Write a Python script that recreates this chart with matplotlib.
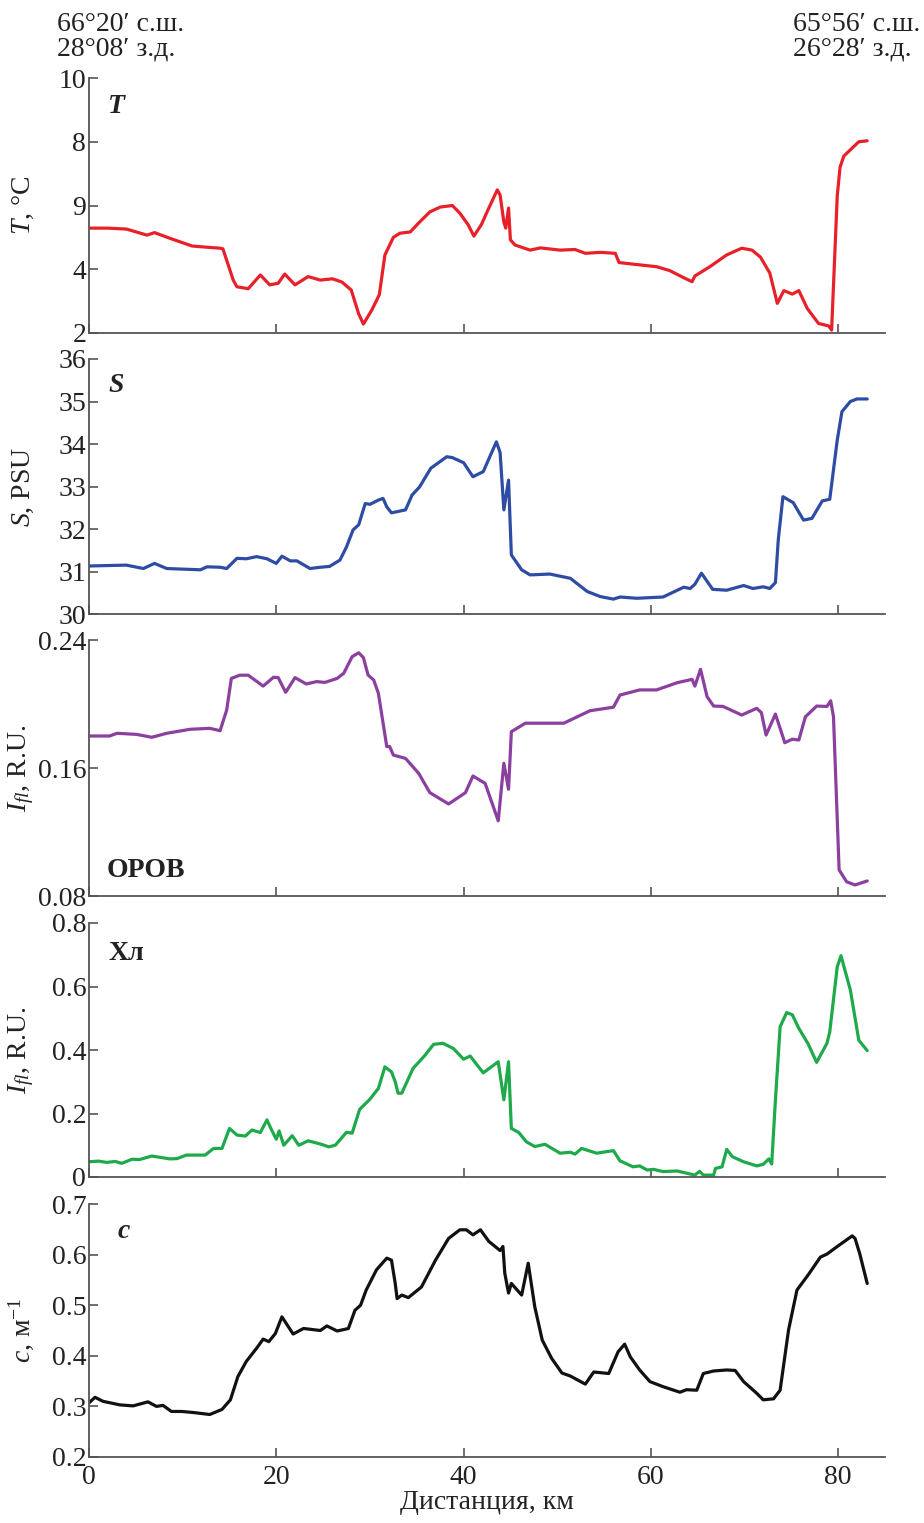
import numpy as np
import matplotlib
matplotlib.use("Agg")
import matplotlib.pyplot as plt

plt.rcParams['font.family'] = ['Liberation Serif', 'DejaVu Serif']
plt.rcParams['mathtext.fontset'] = 'custom'
plt.rcParams['mathtext.rm'] = 'Liberation Serif'
plt.rcParams['mathtext.it'] = 'Liberation Serif:italic'
plt.rcParams['mathtext.bf'] = 'Liberation Serif:bold'

# temperature
t_km = [0, 2, 4.0, 6.2, 7.0, 8.65, 11.0, 12.2, 14.0, 14.3, 15.4, 15.8, 17.0, 18.3, 19.3, 20.2, 20.9, 22.0, 23.4,
        24.7, 26.0, 27.0, 28.0, 28.8, 29.3, 30.2, 31.0, 31.6, 32.5, 33.2, 34.3, 35.3, 36.4, 37.5, 38.8, 39.6, 40.5,
        41.1, 41.9, 42.6, 43.6, 43.9, 44.3, 44.5, 44.8, 45.0, 45.5, 47.1, 48.2, 50.3, 51.9, 53.0, 54.6, 56.2, 56.6,
        58.1, 60.6, 62.0, 63.4, 64.4, 64.7, 66.3, 68.1, 69.7, 70.8, 71.7, 72.7, 73.5, 74.2, 75.1, 75.8, 76.7, 77.9,
        79.0, 79.3, 79.9, 80.2, 80.6, 81.1, 82.2, 83.1]
t_val = [5.29, 5.29, 5.26, 5.07, 5.15, 4.97, 4.73, 4.70, 4.66, 4.64, 3.66, 3.45, 3.39, 3.82, 3.51, 3.56, 3.85, 3.51,
         3.77, 3.66, 3.7, 3.6, 3.35, 2.6, 2.28, 2.72, 3.2, 4.45, 5.0, 5.13, 5.17, 5.48, 5.8, 5.95, 6.0, 5.76, 5.39,
         5.04, 5.4, 5.86, 6.49, 6.33, 5.48, 5.29, 5.92, 4.92, 4.76, 4.6, 4.67, 4.6, 4.62, 4.5, 4.53, 4.5, 4.21,
         4.16, 4.08, 3.96, 3.75, 3.61, 3.79, 4.08, 4.45, 4.66, 4.6, 4.38, 3.88, 2.93, 3.33, 3.22, 3.33, 2.77, 2.30,
         2.22, 2.09, 6.3, 7.2, 7.55, 7.69, 8.0, 8.03]

# salinity
s_km = [0, 4.0, 5.8, 7.0, 8.3, 11.9, 12.6, 14.0, 14.7, 15.8, 16.8, 17.9, 19.0, 20.0, 20.6, 21.5, 22.2, 23.6, 24.7,
        25.7, 26.8, 27.5, 28.2, 28.8, 29.5, 30.0, 30.9, 31.4, 31.8, 32.3, 33.8, 34.5, 35.3, 36.5, 38.2, 38.8, 40.0,
        41.0, 42.1, 43.5, 43.9, 44.3, 44.8, 45.1, 46.2, 47.1, 49.2, 51.4, 53.2, 54.6, 56.0, 56.7, 58.5, 61.3, 63.5,
        64.2, 64.7, 65.4, 66.6, 68.1, 69.9, 70.9, 72.0, 72.7, 73.3, 73.6, 74.1, 75.2, 76.3, 77.2, 78.3, 79.1, 79.9,
        80.4, 81.3, 82.0, 83.1]
s_val = [31.13, 31.15, 31.07, 31.19, 31.07, 31.04, 31.11, 31.1, 31.07, 31.31, 31.30, 31.35, 31.3, 31.19, 31.36,
         31.25, 31.25, 31.07, 31.1, 31.12, 31.27, 31.58, 31.98, 32.1, 32.6, 32.58, 32.68, 32.72, 32.52, 32.38, 32.45,
         32.8, 32.99, 33.43, 33.70, 33.68, 33.56, 33.23, 33.35, 34.05, 33.8, 32.45, 33.15, 31.39, 31.04, 30.92, 30.94,
         30.84, 30.53, 30.41, 30.35, 30.40, 30.37, 30.4, 30.63, 30.6, 30.7, 30.96, 30.58, 30.56, 30.67, 30.6, 30.64,
         30.6, 30.74, 31.74, 32.76, 32.62, 32.21, 32.25, 32.66, 32.7, 34.09, 34.76, 35.0, 35.06, 35.06]

# CDOM fluorescence
o_km = [0, 2.2, 3.0, 5.1, 6.7, 8.3, 10.8, 12.9, 14.0, 14.7, 15.2, 16.1, 17.0, 18.6, 19.7, 20.2, 21.0, 22.0, 23.2,
        24.3, 25.2, 26.5, 27.2, 28.1, 28.8, 29.3, 29.8, 30.4, 30.9, 31.8, 32.1, 32.5, 33.8, 35.2, 36.4, 38.4, 40.2,
        41.0, 42.3, 43.7, 44.3, 44.8, 45.1, 46.6, 50.7, 53.5, 56.0, 56.7, 58.8, 60.6, 62.8, 64.4, 64.7, 65.3, 66.0,
        66.7, 67.7, 69.7, 71.3, 71.8, 72.3, 73.3, 74.3, 75.1, 75.8, 76.5, 77.7, 78.8, 79.2, 79.5, 80.1, 80.9, 81.8,
        83.1]
o_val = [0.18, 0.18, 0.1817, 0.181, 0.1792, 0.1817, 0.1842, 0.1848, 0.1833, 0.1962, 0.216, 0.218, 0.218, 0.2112,
         0.2167, 0.2165, 0.2073, 0.2165, 0.2125, 0.214, 0.2135, 0.216, 0.2192, 0.2296, 0.232, 0.229, 0.2181, 0.215,
         0.2067, 0.1733, 0.1735, 0.1681, 0.166, 0.1567, 0.1446, 0.1375, 0.1446, 0.155, 0.1504, 0.127, 0.163, 0.1467,
         0.1827, 0.188, 0.188, 0.1958, 0.198, 0.2056, 0.2088, 0.2088, 0.2133, 0.2154, 0.2112, 0.2217, 0.2046, 0.1987,
         0.1985, 0.1931, 0.1973, 0.1946, 0.1806, 0.1937, 0.1758, 0.178, 0.1775, 0.192, 0.1987, 0.1985, 0.202, 0.192,
         0.0963, 0.0889, 0.0869, 0.0894]

# chlorophyll fluorescence
h_km = [0, 1.0, 1.9, 2.8, 3.5, 4.6, 5.4, 6.7, 8.65, 9.4, 10.4, 12.4, 13.3, 14.2, 15.0, 15.8, 16.7, 17.4, 18.3, 19.0,
        19.5, 20.0, 20.3, 20.8, 21.7, 22.4, 23.4, 24.7, 25.6, 26.3, 27.5, 28.1, 28.9, 30.0, 30.9, 31.6, 32.3, 32.7,
        33.0, 33.4, 34.6, 35.9, 36.8, 37.8, 38.9, 40.0, 40.7, 42.1, 43.7, 44.3, 44.8, 45.1, 45.9, 46.7, 47.6, 48.7,
        50.3, 51.4, 51.9, 52.6, 54.2, 56.0, 56.7, 58.1, 58.8, 59.6, 60.3, 61.3, 62.8, 64.7, 65.2, 65.6, 66.7, 66.9,
        67.6, 68.1, 68.7, 69.9, 71.3, 72.0, 72.6, 72.9, 73.3, 73.8, 74.5, 75.1, 75.8, 76.8, 77.7, 78.8, 79.1, 79.9,
        80.3, 81.3, 82.2, 83.1]
h_val = [0.048, 0.05, 0.046, 0.049, 0.043, 0.056, 0.055, 0.066, 0.057, 0.058, 0.069, 0.069, 0.09, 0.09, 0.153, 0.132,
         0.129, 0.148, 0.140, 0.18, 0.148, 0.119, 0.145, 0.1, 0.13, 0.1, 0.114, 0.104, 0.095, 0.1, 0.141, 0.138, 0.213,
         0.245, 0.279, 0.347, 0.331, 0.30, 0.264, 0.264, 0.342, 0.384, 0.418, 0.421, 0.405, 0.371, 0.381, 0.328, 0.363,
         0.243, 0.363, 0.153, 0.140, 0.111, 0.096, 0.103, 0.075, 0.078, 0.072, 0.09, 0.075, 0.083, 0.051, 0.032, 0.035,
         0.022, 0.024, 0.017, 0.019, 0.006, 0.018, 0.006, 0.006, 0.027, 0.032, 0.087, 0.064, 0.048, 0.035, 0.04, 0.057,
         0.041, 0.243, 0.473, 0.518, 0.511, 0.468, 0.419, 0.361, 0.421, 0.457, 0.662, 0.697, 0.589, 0.431, 0.398]

# beam attenuation
c_km = [0, 0.64, 1.5, 3.3, 4.7, 6.3, 7.2, 7.9, 8.8, 9.9, 11.1, 12.9, 14.2, 15.1, 15.9, 16.8, 17.9, 18.6, 19.2, 19.9,
        20.6, 21.8, 22.9, 24.7, 25.4, 26.5, 27.7, 28.4, 29.0, 29.6, 30.7, 31.8, 32.3, 32.7, 32.9, 33.4, 34.1, 35.5,
        37.0, 38.4, 39.6, 40.3, 41.0, 41.8, 42.7, 43.9, 44.2, 44.4, 44.8, 45.1, 46.2, 46.9, 47.6, 48.4, 49.4, 50.5,
        51.4, 53.0, 53.9, 55.5, 56.5, 57.2, 57.8, 58.8, 59.9, 61.3, 63.1, 63.8, 64.9, 65.6, 66.7, 68.1, 69.0, 69.9,
        71.3, 72.0, 73.1, 73.8, 74.7, 75.6, 76.8, 78.1, 78.8, 79.9, 81.5, 81.8, 82.3, 83.1]
c_val = [0.307, 0.318, 0.31, 0.303, 0.301, 0.309, 0.30, 0.302, 0.29, 0.29, 0.288, 0.284, 0.294, 0.313, 0.359, 0.389,
         0.415, 0.433, 0.428, 0.444, 0.477, 0.443, 0.454, 0.45, 0.459, 0.449, 0.454, 0.49, 0.5, 0.53, 0.57, 0.593, 0.589,
         0.543, 0.513, 0.52, 0.515, 0.536, 0.589, 0.632, 0.649, 0.649, 0.639, 0.649, 0.626, 0.608, 0.616, 0.563, 0.524,
         0.543, 0.52, 0.583, 0.497, 0.431, 0.395, 0.366, 0.36, 0.344, 0.368, 0.365, 0.408, 0.423, 0.398, 0.372, 0.349,
         0.339, 0.328, 0.333, 0.332, 0.365, 0.37, 0.372, 0.371, 0.349, 0.326, 0.313, 0.315, 0.332, 0.451, 0.53, 0.56,
         0.595, 0.601, 0.616, 0.637, 0.632, 0.602, 0.543]

x_ticks = [0, 20, 40, 60, 80]
t_ticks = [2, 4, 6, 8, 10]
t_ticklabels = ['2', '4', '9', '8', '10']
s_ticks = [30, 31, 32, 33, 34, 35, 36]
o_ticks = [0.08, 0.16, 0.24]
h_ticks = [0, 0.2, 0.4, 0.6, 0.8]
c_ticks = [0.2, 0.3, 0.4, 0.5, 0.6, 0.7]

W, H = 924, 1523
fig = plt.figure(figsize=(W / 100, H / 100), dpi=100)

left, right = 89, 885
panels = [
    # top px, bottom px, x, y, color, ylim, ticks, ticklabels, ylabel, tag, tag pos, tag italic
    (78, 333, t_km, t_val, '#e8202a', (2, 10), t_ticks, t_ticklabels, '$T$, °C', 'T', (0.024, 0.89), True),
    (359, 614, s_km, s_val, '#2e4ca3', (30, 36), s_ticks, None, '$S$, PSU', 'S', (0.024, 0.895), True),
    (640, 896, o_km, o_val, '#8b3f9e', (0.08, 0.24), o_ticks, ['0.08', '0.16', '0.24'], '$I_{fl}$, R.U.', 'ОРОВ', (0.022, 0.098), False),
    (923, 1177, h_km, h_val, '#1eaa4b', (0, 0.8), h_ticks, ['0', '0.2', '0.4', '0.6', '0.8'], '$I_{fl}$, R.U.', 'Хл', (0.024, 0.878), False),
    (1204, 1457, c_km, c_val, '#111111', (0.2, 0.7), c_ticks, ['0.2', '0.3', '0.4', '0.5', '0.6', '0.7'], '$c$, м$^{-1}$', 'c', (0.036, 0.89), True),
]

fs = 20
axes = []
for i, (top, bot, xs, ys, col, ylim, ticks, tlabels, ylab, tag, tpos, ital) in enumerate(panels):
    ax = fig.add_axes([left / W, 1 - bot / H, (right - left) / W, (bot - top) / H])
    ax.plot(xs, ys, color=col, lw=2.3, solid_joinstyle='round', solid_capstyle='round')
    ax.set_xlim(0, 85)
    ax.set_ylim(*ylim)
    ax.set_xticks(x_ticks)
    ax.set_yticks(ticks)
    if tlabels is not None:
        ax.set_yticklabels(tlabels)
    for sp in ['top', 'right']:
        ax.spines[sp].set_visible(False)
    for sp in ['left', 'bottom']:
        ax.spines[sp].set_color('#555555')
        ax.spines[sp].set_linewidth(1.3)
    ax.tick_params(direction='in', length=6.5, width=1.2, color='#555555', labelsize=fs, labelcolor='#222222', pad=2)
    if i < len(panels) - 1:
        ax.tick_params(axis='x', labelbottom=False)
    ax.set_ylabel(ylab, fontsize=fs, color='#222222')
    ax.yaxis.set_label_coords(-0.066, 0.5)
    ax.text(tpos[0], tpos[1], tag, transform=ax.transAxes, fontsize=fs, fontweight='bold',
            fontstyle='italic' if ital else 'normal', color='#222222', va='center', ha='left')
    axes.append(ax)

axes[-1].set_xticklabels([str(v) for v in x_ticks])
axes[-1].tick_params(axis='x', pad=6)
axes[-1].set_xlabel('Дистанция, км', fontsize=fs, color='#222222', labelpad=0)

fig.text(57 / W, 1 - 12 / H, '66°20′ с.ш.\n28°08′ з.д.', fontsize=fs, color='#222222',
         va='top', ha='left', linespacing=0.95)
fig.text(920 / W, 1 - 12 / H, '65°56′ с.ш.\n26°28′ з.д.', fontsize=fs, color='#222222',
         va='top', ha='right', multialignment='left', linespacing=0.95)

fig.savefig('out.png', dpi=100)
